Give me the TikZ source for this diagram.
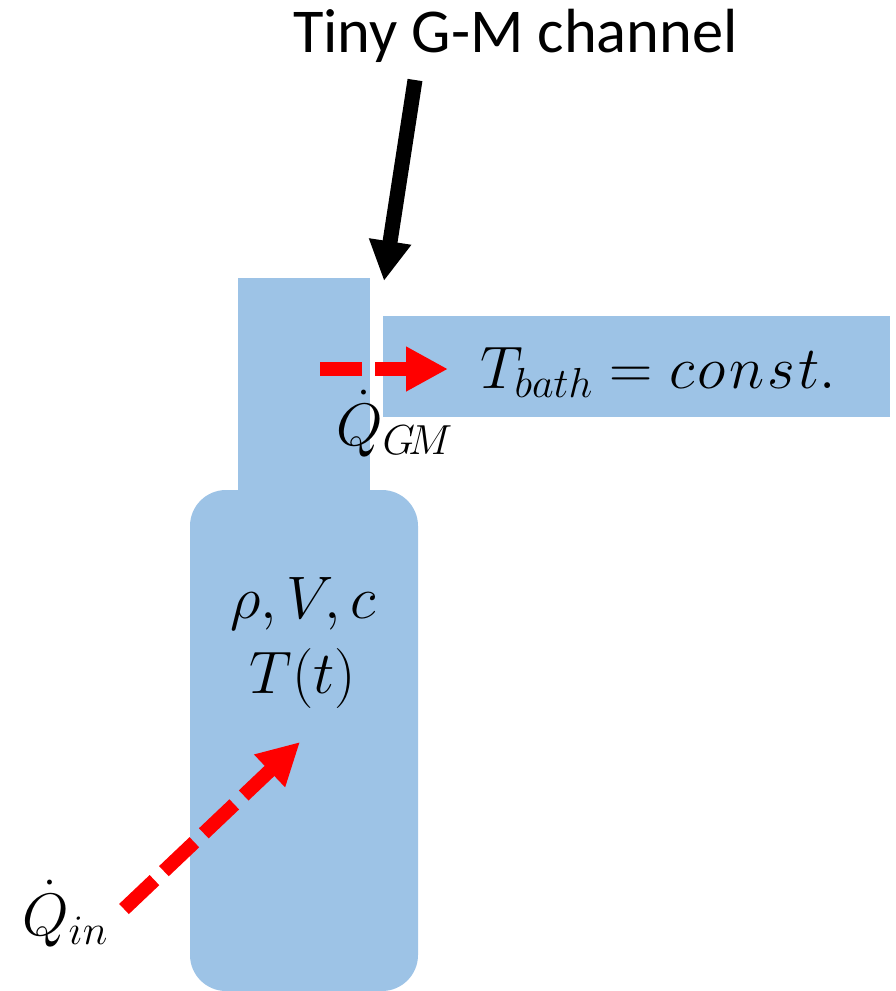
\RequirePackage{fix-cm}
\documentclass[tikz,border=0pt]{standalone}
\usepackage{fontspec}
\newfontfamily\calibri{Carlito}
\usetikzlibrary{arrows.meta}
\definecolor{vessel}{HTML}{9DC3E6}
\definecolor{heatred}{HTML}{FF0000}
\tikzset{
  vesselfill/.style={fill=vessel, draw=none},
  heatarrow/.style={draw=heatred, line width=14pt, dash pattern=on 42pt off 13pt,
     -{Triangle[length=42pt,width=42pt]}},
  pointer/.style={draw=black, line width=15pt, -{Triangle[length=40pt,width=40pt]}},
  mathlbl/.style={inner sep=0pt, font=\fontsize{60}{72}\selectfont},
  titlelbl/.style={inner sep=0pt, font=\calibri\fontsize{62.4}{75}\selectfont}
}
\begin{document}
\begin{tikzpicture}[x=1pt,y=-1pt]
\useasboundingbox (0,0) rectangle (895,991);
% vessel
\fill[vesselfill] (238,278) rectangle (370,500);
\fill[vesselfill, rounded corners=36pt] (190,490) rectangle (418,991);
\fill[vesselfill] (383,316) rectangle (890,417);
% labels
\node[titlelbl, anchor=base west] (title) at (293,52) {Tiny G-M channel};
\node[mathlbl, anchor=base west] (bath) at (480,388) {$T_{bath}=c\mkern1mu o\mkern1mu n\mkern1mu s\mkern1mu t.$};
\node[mathlbl, anchor=base west] (qgm) at (336,445) {$\dot{Q}_{G\!M}$};
\node[mathlbl, anchor=base] (props) at (303,618) {$\rho,V,c$};
\node[mathlbl, anchor=base] (temp) at (303,693) {$T(t)$};
\node[mathlbl, anchor=base west] (qin) at (22,935) {$\dot{Q}_{in}$};
% arrows
\coordinate (ptrA) at (415,80);
\coordinate (ptrB) at (384,281);
\draw[pointer] (ptrA) -- (ptrB);
\coordinate (gmA) at (320,369);
\coordinate (gmB) at (448,369);
\draw[heatarrow] (gmA) -- (gmB);
\coordinate (inA) at (124,909);
\coordinate (inB) at (300,742);
\draw[heatarrow] (inA) -- (inB);
\end{tikzpicture}
\end{document}
